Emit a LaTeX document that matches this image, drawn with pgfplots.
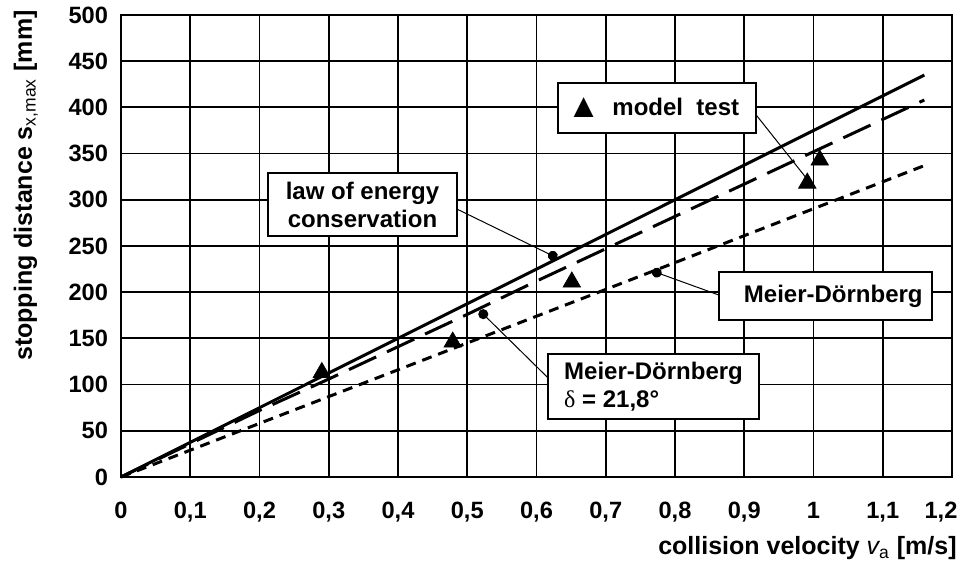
\documentclass[border=0pt]{standalone}
\usepackage{fontspec}
\setmainfont{Liberation Sans}
\newfontfamily\serif{Liberation Serif}
\usepackage{pgfplots}
\pgfplotsset{compat=1.18}
\usetikzlibrary{calc,arrows.meta}

\begin{document}
\begin{tikzpicture}
\begin{axis}[
  scale only axis, width=415.5pt, height=231pt,
  xmin=0, xmax=1.2, ymin=0, ymax=500,
  xtick={0,0.1,0.2,0.3,0.4,0.5,0.6,0.7,0.8,0.9,1,1.1},
  extra x ticks={1.2},
  extra x tick style={xticklabel style={xshift=-5.5pt}},
  ytick={0,50,100,150,200,250,300,350,400,450,500},
  major tick length=0pt,
  grid=major, grid style={black, line width=0.9pt},
  axis line style={black, line width=1pt},
  /pgf/number format/assume math mode=true,
  /pgf/number format/use comma,
  ticklabel style={font=\fontsize{11.8}{13}\selectfont\bfseries},
  xticklabel style={anchor=base, yshift=-21pt},
  yticklabel style={xshift=-3pt},
  xlabel={collision velocity {\mdseries\itshape v}{\mdseries\textsubscript{a}} [m/s]},
  xlabel style={font=\fontsize{12.5}{15}\selectfont\bfseries, at={(rel axis cs:1,0)}, anchor=base east, inner sep=0pt, xshift=2.5pt, yshift=-39pt},
  ylabel={stopping distance s\textsubscript{\mdseries x,max} [mm]},
  ylabel style={font=\fontsize{12.5}{15}\selectfont\bfseries, at={(rel axis cs:0,1)}, anchor=base east, inner sep=0pt, xshift=2.5pt, yshift=44.5pt},
  clip=false,
]
% law of energy conservation
\addplot[black, line width=1.5pt] coordinates {(0,0) (0.4,150) (0.8,300) (1.16,435)};
% Meier-Doernberg delta = 21,8
\addplot[black, line width=1.5pt, dash pattern=on 15pt off 6pt] coordinates {
(0,0) (0.1,36) (0.2,72) (0.3,106) (0.4,141) (0.5,176) (0.6,212) (0.7,247) (0.8,282) (0.9,317) (1.0,352) (1.16,408)};
% Meier-Doernberg
\addplot[black, line width=1.5pt, dash pattern=on 5pt off 3.5pt] coordinates {(0,0) (0.4,116) (0.8,232) (1.16,337)};
% model test
\addplot[only marks, mark=triangle*, mark size=5pt, black] coordinates {
(0.29,113) (0.479,146) (0.651,211) (0.991,318) (1.009,343)};

\coordinate (ll) at (rel axis cs:0,0);
\coordinate (ur) at (rel axis cs:1,1);

% pin lines
\draw[black, line width=0.5pt, -{Circle[length=5pt]}] (0.485,290) -- (0.630,237);
\draw[black, line width=0.5pt] (0.917,392) -- (0.988,325);
\draw[black, line width=0.5pt, -{Circle[length=5pt]}] (0.863,197) -- (0.767,223);
\draw[black, line width=0.5pt, -{Circle[length=5pt]}] (0.617,107) -- (0.518,180);

% boxes
\node[draw=black, fill=white, line width=1pt, minimum width=94.5pt, minimum height=31.5pt, align=center,
  font=\fontsize{12}{14}\selectfont\bfseries] at (0.3487,294.9) {law of energy\\conservation};
\node[draw=black, fill=white, line width=1pt, minimum width=99pt, minimum height=25pt, inner ysep=0pt,
  font=\fontsize{12}{14}\selectfont\bfseries] at (0.774,399.4) {\hspace{-4pt}\raisebox{-1pt}{\fontsize{17}{17}\selectfont ▲}\hspace{6pt}model\ \ test};
\node[draw=black, fill=white, line width=1pt, minimum width=106.5pt, minimum height=24pt,
  font=\fontsize{12}{14}\selectfont\bfseries] at (1.017,195.9) {\hspace{8pt}Meier-Dörnberg};
\node[draw=black, fill=white, line width=1pt, minimum width=105.5pt, minimum height=32.5pt, align=left,
  font=\fontsize{12}{14}\selectfont\bfseries] at (0.769,97.9) {Meier-Dörnberg\\{\serif\mdseries δ} = 21,8°};
\end{axis}
\pgfresetboundingbox
\path ($(ll)+(-60.5pt,-43.5pt)$) rectangle ($(ur)+(4.5pt,7.5pt)$);
\end{tikzpicture}
\end{document}
